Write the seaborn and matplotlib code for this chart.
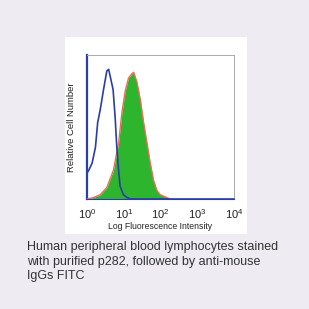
import numpy as np
import pandas as pd
import matplotlib
matplotlib.use("Agg")
import matplotlib.pyplot as plt
import seaborn as sns

# Isotype control (blue outline): log10 intensity and relative height
iso_log = [0.00, 0.05, 0.14, 0.23, 0.29, 0.36, 0.45, 0.54, 0.59, 0.65, 0.71, 0.77, 0.81, 0.86, 0.90, 0.99, 1.09, 1.18, 4.00]
iso_h = [0.18, 0.20, 0.25, 0.36, 0.53, 0.62, 0.76, 0.89, 0.90, 0.83, 0.76, 0.55, 0.36, 0.20, 0.09, 0.03, 0.01, 0.0, 0.0]

# p282 stained (green filled, red outline)
stain_log = [0.00, 0.18, 0.36, 0.54, 0.72, 0.86, 0.95, 1.04, 1.13, 1.22, 1.27, 1.36, 1.45, 1.54, 1.63, 1.72, 1.81, 1.90, 1.99, 2.17, 2.26]
stain_h = [0.0, 0.01, 0.03, 0.08, 0.20, 0.39, 0.60, 0.75, 0.84, 0.87, 0.88, 0.81, 0.69, 0.53, 0.39, 0.25, 0.13, 0.06, 0.03, 0.01, 0.0]

xticks = [1, 10, 100, 1000, 10000]
xtick_labels = [r"$10^0$", r"$10^1$", r"$10^2$", r"$10^3$", r"$10^4$"]
caption = "Human peripheral blood lymphocytes stained\nwith purified p282, followed by anti-mouse\nIgGs FITC"

iso = pd.DataFrame({"x": 10 ** np.array(iso_log), "y": iso_h})
stain = pd.DataFrame({"x": 10 ** np.array(stain_log), "y": stain_h})

sns.set_style("white")
plt.rcParams["font.family"] = ["Liberation Sans", "DejaVu Sans"]
plt.rcParams["mathtext.fontset"] = "custom"
plt.rcParams["mathtext.rm"] = "Liberation Sans"
plt.rcParams["mathtext.it"] = "Liberation Sans"

W = 309
fig = plt.figure(figsize=(3.09, 3.09), dpi=100)
fig.patch.set_facecolor("#eeecf2")

# white panel behind the chart
panel = fig.add_axes([65 / W, 1 - 234 / W, (247 - 65) / W, (234 - 37) / W], zorder=0)
panel.set_axis_off()
panel.add_patch(plt.Rectangle((0, 0), 1, 1, transform=panel.transAxes, facecolor="white", edgecolor="none"))

ax = fig.add_axes([87 / W, 1 - 199 / W, (234 - 87) / W, (199 - 55) / W], zorder=1)
ax.set_facecolor("white")
ax.set_xscale("log")

ax.fill_between(stain["x"], 0, stain["y"], color="#2db52d", zorder=2, linewidth=0)
sns.lineplot(data=stain, x="x", y="y", ax=ax, color="#f06a5a", linewidth=1.0, zorder=3)
sns.lineplot(data=iso, x="x", y="y", ax=ax, color="#2a3ea8", linewidth=1.2, zorder=4, clip_on=False)

ax.set_xlim(1, 10000)
ax.set_ylim(0, 1.0)
ax.set_xticks(xticks)
ax.set_xticklabels(xtick_labels, fontsize=8, color="#222222")
ax.xaxis.set_minor_locator(matplotlib.ticker.NullLocator())
ax.set_yticks(np.linspace(0, 1, 9))
ax.set_yticklabels([])
ax.tick_params(axis="both", length=2, width=0.5, color="#999999", pad=4, direction="out")
ax.tick_params(axis="y", pad=1)
for s in ax.spines.values():
    s.set_color("#aaaaaa")
    s.set_linewidth(0.7)
ax.spines["left"].set_color("#2a3ea8")
ax.spines["left"].set_linewidth(1.6)
ax.spines["bottom"].set_color("#2a3ea8")
ax.spines["bottom"].set_linewidth(0.8)

ax.set_xlabel("Log Fluorescence Intensity", fontsize=6.2, color="#222222", labelpad=0.5)
ax.set_ylabel("Relative Cell Number", fontsize=6.8, color="#222222", labelpad=5)

fig.text(27 / W, 1 - 241 / W, caption, fontsize=9, color="#333333", va="top", ha="left",
         linespacing=1.3)

fig.savefig("out.png", dpi=100)
